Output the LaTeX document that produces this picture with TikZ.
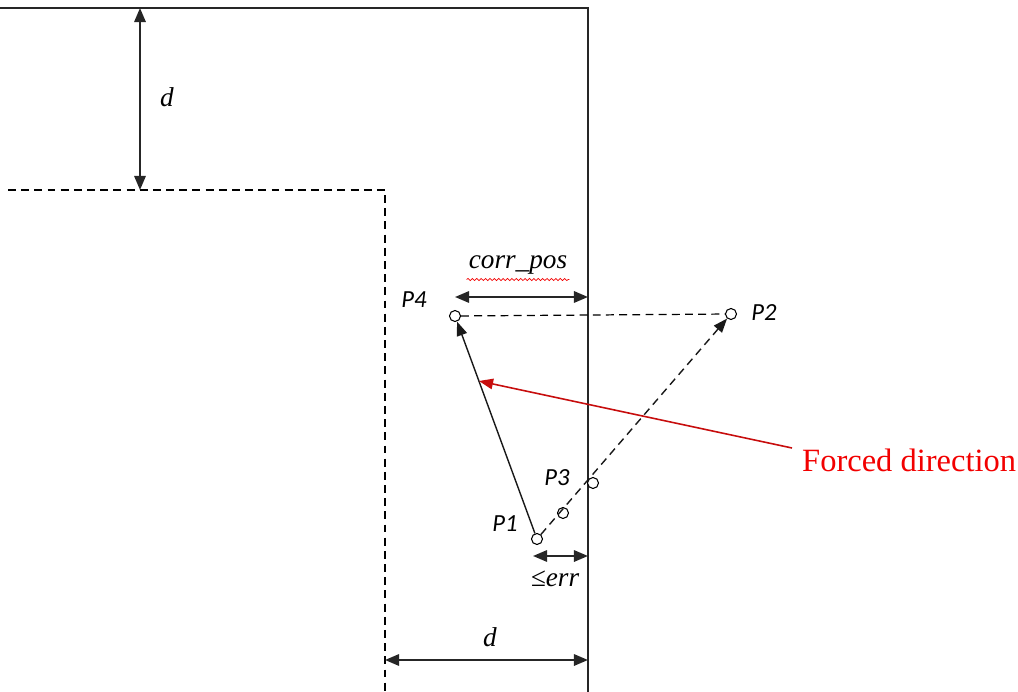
\documentclass[tikz,border=0pt]{standalone}
\usepackage{fontspec}
\setmainfont{Liberation Serif}
\newfontfamily\ptfont{Carlito}
\usetikzlibrary{arrows.meta, positioning, calc, decorations.pathmorphing}
\definecolor{ArrowRed}{rgb}{0.78, 0.05, 0.05}
\definecolor{TextRed}{rgb}{0.95, 0.0, 0.0}

\begin{document}
\begin{tikzpicture}[
    x=0.02cm, y=-0.02cm,
    wall/.style={line width=0.7pt, black!85},
    dashline/.style={line width=0.7pt, dash pattern=on 4.5pt off 3pt},
    dim/.style={{Triangle[length=8pt, width=6.5pt]}-{Triangle[length=8pt, width=6.5pt]}, line width=1.1pt, black!85},
    move/.style={-{Triangle[length=8pt, width=6pt]}, line width=0.8pt, black!90},
    pt/.style={circle, draw, line width=0.6pt, fill=white, inner sep=0pt, minimum size=0.22cm},
    plab/.style={font=\ptfont\itshape\fontsize{14}{15}\selectfont},
    vlab/.style={font=\itshape\fontsize{15.5}{16}\selectfont},
]
\useasboundingbox (0,0) rectangle (1018,692);

% --- pared y limite interior ---
\draw[wall] (0,8) -- (588,8) -- (588,692);
\draw[dashline] (8,190) -- (385,190) -- (385,692);

% --- cotas d ---
\coordinate (dtop) at (140,8);
\coordinate (dbot) at (140,190);
\draw[dim] (dtop) -- (dbot);
\node[vlab] (dv) at (167,97) {d};

\coordinate (dleft) at (385,660);
\coordinate (dright) at (588,660);
\draw[dim] (dleft) -- (dright);
\node[vlab] (dh) at (490,637) {d};

% --- puntos ---
\node[pt] (p4) at (455,316) {};
\node[pt] (p2) at (731,314) {};
\node[pt] (p1) at (537,539) {};
\node[pt] (p3) at (563,513) {};
\node[pt] (pw) at (593,483) {};

\node[plab] (l4) at (414,300) {P4};
\node[plab] (l2) at (764,313) {P2};
\node[plab] (l1) at (505,524) {P1};
\node[plab] (l3) at (557,478) {P3};

% trayectorias
\draw[dashline] (p4) -- (p2);
\draw[move, dash pattern=on 4.5pt off 3pt] (p1) -- (p2);
\draw[move] (p1) -- (p4);

% --- cota corr_pos ---
\coordinate (cleft) at (455,297);
\coordinate (cright) at (588,297);
\draw[dim] (cleft) -- (cright);
\node[vlab] (cp) at (518,265) {corr\_pos};
\draw[TextRed, line width=0.4pt, decorate, decoration={snake, amplitude=0.6pt, segment length=2.5pt}]
    ($(cp.south west)+(4,-1)$) -- ($(cp.south east)+(-4,-1)$);

% --- cota err ---
\coordinate (eleft) at (533,556);
\coordinate (eright) at (588,556);
\draw[dim] (eleft) -- (eright);
\node[vlab] (err) at (555,579) {≤err};

% --- direccion forzada ---
\node[text=TextRed, font=\fontsize{18.5}{20}\selectfont, anchor=west] (forced) at (796,460) {Forced direction};
\coordinate (ftip) at (479,381);
\draw[-{Triangle[length=8pt, width=6pt]}, line width=0.9pt, ArrowRed] (forced.west) ++(-4,-12) -- (ftip);

\end{tikzpicture}
\end{document}
